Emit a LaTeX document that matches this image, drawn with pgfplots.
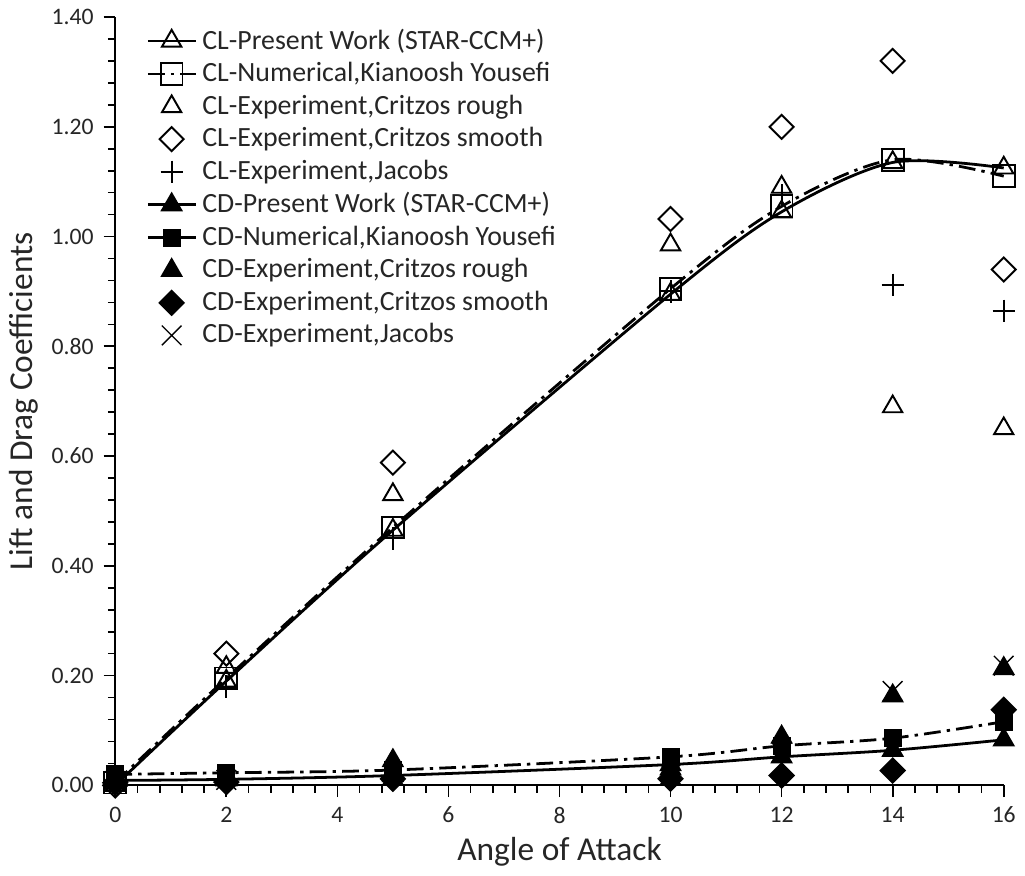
\documentclass[border=0pt]{standalone}
\usepackage{fontspec}
\setmainfont{Carlito}
\usepackage{pgfplots}
\pgfplotsset{compat=1.18}
\begin{document}
\begin{tikzpicture}
\begin{axis}[
  scale only axis, width=318bp, height=275bp,
  xmin=0, xmax=16, ymin=0, ymax=1.4,
  axis x line*=bottom, axis y line*=left,
  axis line style={line width=0.7pt},
  xtick={0,2,4,6,8,10,12,14,16},
  ytick={0,0.2,0.4,0.6,0.8,1.0,1.2,1.4},
  minor x tick num=4, minor y tick num=4,
  tick align=outside,
  major tick length=4.2bp, minor tick length=2.6bp,
  every tick/.style={black, line width=0.6pt},
  yticklabel style={/pgf/number format/fixed, /pgf/number format/fixed zerofill, /pgf/number format/precision=2},
  /pgf/number format/assume math mode=true,
  ticklabel style={font=\fontsize{8.5}{10}\selectfont, text=black!85},
  xlabel={Angle of Attack}, ylabel={Lift and Drag Coefficients},
  label style={font=\fontsize{12}{14}\selectfont, text=black!85},
  xlabel style={yshift=2bp},
  ylabel style={yshift=-2bp},
  clip=false,
  legend cell align=left,
  legend style={at={(rel axis cs:0,1)}, anchor=north west, xshift=8bp, yshift=0bp,
    draw=none, fill=none, font=\fontsize{10}{12}\selectfont, text=black!85, row sep=-0.75bp,
    nodes={inner xsep=2pt}},
]
% CL
\addplot[black, line width=1pt, smooth, mark=triangle, mark size=4pt, mark options={solid, line width=0.7pt}]
  coordinates {(0,0.0) (2,0.19) (5,0.465) (10,0.895) (12,1.045) (14,1.135) (16,1.125)};
\addlegendentry{CL-Present Work (STAR-CCM+)}
\addplot[black, line width=1pt, smooth, dash pattern=on 6bp off 2.2bp on 1.2bp off 2.2bp, mark=square, mark size=3.9pt, mark options={solid, line width=0.7pt}]
  coordinates {(0,0.005) (2,0.195) (5,0.47) (10,0.905) (12,1.055) (14,1.14) (16,1.11)};
\addlegendentry{CL-Numerical,Kianoosh Yousefi}
\addplot[black, only marks, mark=triangle, mark size=4pt, mark options={line width=0.7pt}]
  coordinates {(0,0.0) (2,0.215) (5,0.53) (10,0.985) (12,1.09) (14,0.69) (16,0.65)};
\addlegendentry{CL-Experiment,Critzos rough}
\addplot[black, only marks, mark=square, mark size=3.05pt, mark options={rotate=45, line width=0.7pt}]
  coordinates {(0,0.0) (2,0.24) (5,0.588) (10,1.032) (12,1.20) (14,1.32) (16,0.94)};
\addlegendentry{CL-Experiment,Critzos smooth}
\addplot[black, only marks, mark=+, mark size=4pt, mark options={line width=0.7pt}]
  coordinates {(0,0.0) (2,0.18) (5,0.45) (10,0.90) (12,1.075) (14,0.912) (16,0.865)};
\addlegendentry{CL-Experiment,Jacobs}
% CD
\addplot[black, line width=1pt, smooth, mark=triangle*, mark size=4pt, mark options={solid, line width=0.7pt}]
  coordinates {(0,0.009) (2,0.011) (5,0.018) (10,0.038) (12,0.052) (14,0.064) (16,0.083)};
\addlegendentry{CD-Present Work (STAR-CCM+)}
\addplot[black, line width=1pt, smooth, dash pattern=on 6bp off 2.2bp on 1.2bp off 2.2bp, mark=square*, mark size=2.9pt, mark options={solid, line width=0.7pt}]
  coordinates {(0,0.02) (2,0.023) (5,0.028) (10,0.052) (12,0.072) (14,0.086) (16,0.116)};
\addlegendentry{CD-Numerical,Kianoosh Yousefi}
\addplot[black, only marks, mark=triangle*, mark size=4pt, mark options={line width=0.7pt}]
  coordinates {(0,0.008) (2,0.01) (5,0.045) (10,0.03) (12,0.088) (14,0.163) (16,0.213)};
\addlegendentry{CD-Experiment,Critzos rough}
\addplot[black, only marks, mark=square*, mark size=3.05pt, mark options={rotate=45, line width=0.7pt}]
  coordinates {(0,0.005) (2,0.006) (5,0.012) (10,0.012) (12,0.018) (14,0.027) (16,0.138)};
\addlegendentry{CD-Experiment,Critzos smooth}
\addplot[black, only marks, mark=x, mark size=5pt, mark options={line width=0.5pt}]
  coordinates {(0,0.008) (2,0.01) (5,0.02) (10,0.02) (12,0.06) (14,0.172) (16,0.218)};
\addlegendentry{CD-Experiment,Jacobs}
\end{axis}
\end{tikzpicture}
\end{document}
